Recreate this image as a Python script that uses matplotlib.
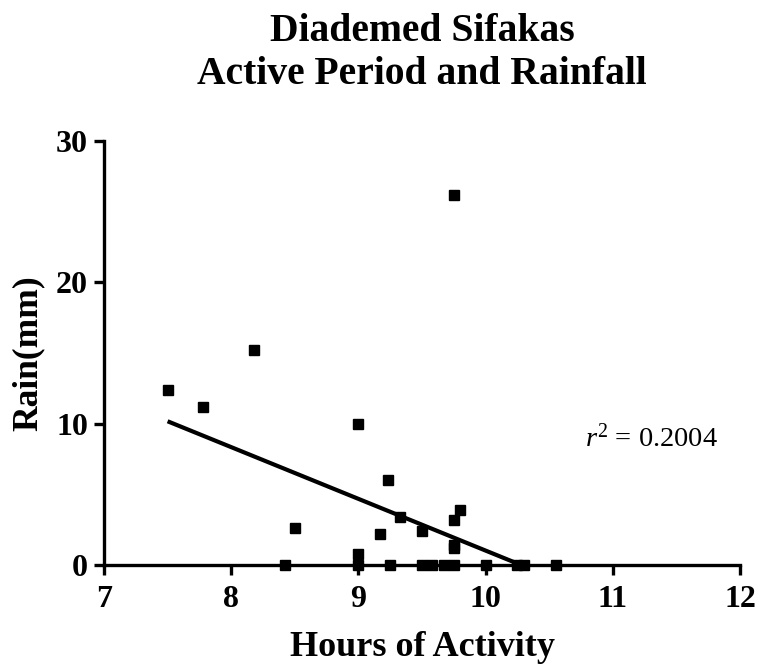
import matplotlib
matplotlib.use("Agg")
import matplotlib.pyplot as plt
import numpy as np

# Data
hours = [7.5, 7.78, 8.18, 8.5, 8.42, 9.0, 9.0, 9.0, 9.17, 9.23, 9.25, 9.33,
         9.5, 9.5, 9.58, 9.67, 9.75, 9.75, 9.75, 9.75, 9.75, 9.8, 10.0,
         10.25, 10.3, 10.55]
rain = [12.4, 11.2, 15.2, 2.6, 0.0, 10.0, 0.8, 0.0, 2.2, 6.0, 0.0, 3.4,
        2.4, 0.0, 0.0, 0.0, 26.2, 3.2, 1.2, 1.45, 0.0, 3.9, 0.0,
        0.0, 0.0, 0.0]
fit_slope = -3.66
fit_intercept = 37.62
r_squared = 0.2004

x_ticks = [7, 8, 9, 10, 11, 12]
y_ticks = [0, 10, 20, 30]

plt.rcParams['mathtext.fontset'] = 'custom'
plt.rcParams['mathtext.rm'] = 'Liberation Serif'
plt.rcParams['mathtext.it'] = 'Liberation Serif:italic'
plt.rcParams['font.family'] = ['Liberation Serif', 'DejaVu Serif']

fig = plt.figure(figsize=(7.57, 6.68), dpi=100)
ax = fig.add_axes([104/757, 103/668, 636/757, 424/668])

ax.plot(hours, rain, linestyle='none', marker='s', markersize=6.8,
        color='black', clip_on=False, zorder=3)

x_end = -fit_intercept / fit_slope
xs = np.linspace(min(hours), x_end, 50)
ax.plot(xs, fit_slope * xs + fit_intercept, color='black', lw=3.0,
        solid_capstyle='butt', zorder=2)

ax.set_xlim(7, 12)
ax.set_ylim(0, 30)
ax.set_xticks(x_ticks)
ax.set_yticks(y_ticks)
ax.set_xticklabels([str(t) for t in x_ticks], fontsize=23, fontweight='bold')
ax.set_yticklabels([str(t) for t in y_ticks], fontsize=23, fontweight='bold')

for s in ['top', 'right']:
    ax.spines[s].set_visible(False)
for s in ['left', 'bottom']:
    ax.spines[s].set_linewidth(2.4)
ax.tick_params(axis='both', direction='out', length=7.5, width=2.4)
ax.tick_params(axis='x', pad=7)
ax.tick_params(axis='y', pad=4)

ax.set_xlabel('Hours of Activity', fontsize=26, fontweight='bold', labelpad=12)
ax.set_ylabel('Rain(mm)', fontsize=25.5, fontweight='bold', labelpad=8)

ax.text(10.78, 8.35, r'$r^2$' + f' = {r_squared:.4f}', fontsize=20.5,
        ha='left', va='baseline')

fig.text(422/757, 1 - 53/668, 'Diademed Sifakas\nActive Period and Rainfall',
         ha='center', va='center', fontsize=28.5, fontweight='bold',
         linespacing=1.22)

fig.savefig('out.png', dpi=100)
